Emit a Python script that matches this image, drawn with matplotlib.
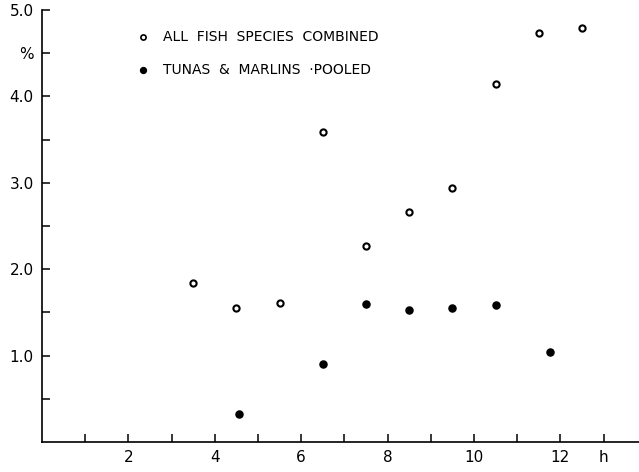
import numpy as np
import matplotlib.pyplot as plt

# all fish species combined (open circles)
all_x = [3.5, 4.5, 5.5, 6.5, 7.5, 8.5, 9.5, 10.5, 11.5, 12.5]
all_y = [1.84, 1.55, 1.61, 3.59, 2.27, 2.66, 2.94, 4.14, 4.73, 4.79]

# tunas & marlins pooled (filled circles)
tuna_x = [4.56, 6.5, 7.5, 8.5, 9.5, 10.5, 11.76]
tuna_y = [0.32, 0.90, 1.60, 1.53, 1.55, 1.59, 1.04]

x_ticks = [1, 2, 3, 4, 5, 6, 7, 8, 9, 10, 11, 12, 13]
x_labels = ['', '2', '', '4', '', '6', '', '8', '', '10', '', '12', 'h']
y_ticks = [0.5, 1.0, 1.5, 2.0, 2.5, 3.0, 3.5, 4.0, 4.5, 5.0]
y_labels = ['', '1.0', '', '2.0', '', '3.0', '', '4.0', '%', '5.0']

fig = plt.figure(figsize=(6.39, 4.72), dpi=100)
ax = fig.add_axes([42/639, 30/472, 597/639, 432/472])

ax.scatter(all_x, all_y, s=20, facecolors='white', edgecolors='black', linewidths=1.5, zorder=3)
ax.scatter(tuna_x, tuna_y, s=26, color='black', zorder=3)

ax.set_xlim(0, 597/43.2)
ax.set_ylim(0, 5.0)

for s in ['top', 'right']:
    ax.spines[s].set_visible(False)
for s in ['left', 'bottom']:
    ax.spines[s].set_linewidth(1.2)

ax.set_xticks(x_ticks)
ax.set_xticklabels(x_labels, fontsize=11)
ax.set_yticks(y_ticks)
ax.set_yticklabels(y_labels, fontsize=11)
ax.tick_params(axis='both', direction='in', length=6, width=1.1, pad=6)

# legend drawn by hand
lx = (143 - 42) / 43.2
tx = (163 - 42) / 43.2
ax.scatter([lx], [(442-37)/86.4], s=14, facecolors='white', edgecolors='black', linewidths=1.2, clip_on=False)
ax.text(tx, (442-37)/86.4, 'ALL  FISH  SPECIES  COMBINED', fontsize=10, va='center')
ax.scatter([lx], [(442-70)/86.4], s=18, color='black', clip_on=False)
ax.text(tx, (442-70)/86.4, 'TUNAS  &  MARLINS  ·POOLED', fontsize=10, va='center')

fig.savefig('out.png', dpi=100)
